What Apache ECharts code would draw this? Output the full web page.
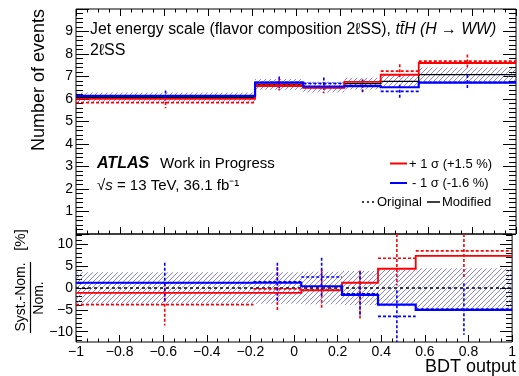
<!DOCTYPE html>
<html>
<head>
<meta charset="utf-8">
<script src="https://cdn.jsdelivr.net/npm/echarts@6/dist/echarts.min.js"></script>
<style>
  html, body { margin: 0; padding: 0; background: #fff; }
  #chart { width: 519px; height: 376px; }
</style>
</head>
<body>
<div id="chart"></div>
<script>
// BDT output binning
const binEdges = [-1, -0.186, 0.033, 0.22, 0.385, 0.558, 1];
// nominal yield per bin
const nominal = [6.07, 6.65, 6.53, 6.68, 6.78, 7.08];
// statistical uncertainty of the nominal, in %
const statRelPct = [3.6, 3.6, 3.7, 3.9, 4.2, 4.5];
// relative shifts (Syst.-Nom.)/Nom. in %, modified (smoothed) templates
const upModifiedPct = [-1.1, -1.1, -0.55, 1.2, 4.4, 7.35];
const downModifiedPct = [1.2, 1.2, 0.4, -1.55, -3.8, -5.0];
// relative shifts in %, original templates, with their uncertainties
const upOriginalPct = [-3.8, -0.2, -0.4, -1.5, 6.8, 8.5];
const downOriginalPct = [1.2, 1.4, 2.5, -1.3, -6.5, -4.8];
const upOriginalPctErr = [4.8, 5.0, 4.6, 5.5, 6.2, 6.2];
const downOriginalPctErr = [4.6, 4.4, 4.4, 5.0, 6.0, 5.9];
// absolute uncertainties of the original templates (events)
const upOriginalErr = [0.25, 0.26, 0.25, 0.28, 0.30, 0.30];
const downOriginalErr = [0.24, 0.26, 0.26, 0.27, 0.29, 0.33];

const RED = '#ff0000', BLUE = '#0000ff', BLACK = '#000000';
const FONT = '"Liberation Sans", Arial, Helvetica, sans-serif';
const RATIO_LIM = 12.35;

const scale = (vals, pct) => vals.map((v, i) => v * (1 + pct[i] / 100));
const upModified = scale(nominal, upModifiedPct);
const downModified = scale(nominal, downModifiedPct);
const upOriginal = scale(nominal, upOriginalPct);
const downOriginal = scale(nominal, downOriginalPct);

// hatch pattern for the statistical band
const hatch = document.createElement('canvas');
hatch.width = 5; hatch.height = 5;
(function () {
  const c = hatch.getContext('2d');
  c.strokeStyle = 'rgba(70,70,235,0.75)';
  c.lineWidth = 0.9;
  c.beginPath();
  c.moveTo(-1, 6); c.lineTo(6, -1);
  c.moveTo(-1, 1); c.lineTo(1, -1);
  c.moveTo(4, 6); c.lineTo(6, 4);
  c.stroke();
})();

function clamp(v, lim) { return lim == null ? v : Math.max(-lim, Math.min(lim, v)); }

// solid histogram outline
function stepSeries(xi, yi, vals, color, width, z) {
  return {
    type: 'custom', xAxisIndex: xi, yAxisIndex: yi, z, silent: true, animation: false,
    data: [[binEdges[0], vals[0]]],
    renderItem(params, api) {
      const pts = [];
      vals.forEach((v, i) => {
        pts.push(api.coord([binEdges[i], v]));
        pts.push(api.coord([binEdges[i + 1], v]));
      });
      return { type: 'polyline', shape: { points: pts },
               style: { stroke: color, lineWidth: width, fill: null } };
    }
  };
}

// dashed bin contents with vertical error bars
function errSeries(xi, yi, vals, errs, color, z, lim) {
  return {
    type: 'custom', xAxisIndex: xi, yAxisIndex: yi, z, silent: true, animation: false,
    data: vals.map((v, i) => [binEdges[i], v, i]),
    encode: { x: 0, y: 1 },
    renderItem(params, api) {
      const i = api.value(2);
      const v = vals[i], e = errs[i];
      const mid = (binEdges[i] + binEdges[i + 1]) / 2;
      const a = api.coord([binEdges[i], v]);
      const b = api.coord([binEdges[i + 1], v]);
      const t = api.coord([mid, clamp(v + e, lim)]);
      const d = api.coord([mid, clamp(v - e, lim)]);
      const st = { stroke: color, lineWidth: 1.6, lineDash: [3, 2] };
      return { type: 'group', children: [
        { type: 'line', shape: { x1: a[0], y1: a[1], x2: b[0], y2: b[1] }, style: st },
        { type: 'line', shape: { x1: t[0], y1: t[1], x2: d[0], y2: d[1] }, style: st }
      ] };
    }
  };
}

// hatched band per bin
function bandSeries(xi, yi, lo, hi, z) {
  return {
    type: 'custom', xAxisIndex: xi, yAxisIndex: yi, z, silent: true, animation: false,
    data: lo.map((v, i) => [binEdges[i], v, i]),
    encode: { x: 0, y: 1 },
    renderItem(params, api) {
      const i = api.value(2);
      const p = api.coord([binEdges[i], hi[i]]);
      const q = api.coord([binEdges[i + 1], lo[i]]);
      return { type: 'rect', shape: { x: p[0], y: p[1], width: q[0] - p[0], height: q[1] - p[1] },
               style: { fill: { image: hatch, repeat: 'repeat' } } };
    }
  };
}

const minus = v => {
  const r = +(+v).toFixed(1);
  return (r < 0 ? '\u2212' : '') + Math.abs(r);
};
const labelStyle = { fontFamily: FONT, fontSize: 14, color: '#000' };
const noLine = { show: false, onZero: false };

function xAx(grid, pos, labels) {
  return {
    type: 'value', gridIndex: grid, position: pos, min: -1, max: 1, interval: 0.2,
    axisLine: noLine,
    axisTick: { show: true, inside: true, length: 7, lineStyle: { color: '#000' } },
    minorTick: { show: true, splitNumber: 4, length: 3.5, lineStyle: { color: '#000' } },
    splitLine: { show: false }, minorSplitLine: { show: false },
    axisLabel: labels ? Object.assign({ show: true, margin: 3, formatter: minus,
                         showMinLabel: true, showMaxLabel: true }, labelStyle) : { show: false }
  };
}
function yUpper(pos, labels) {
  return {
    type: 'value', gridIndex: 0, position: pos, min: 0, max: 10, interval: 1,
    axisLine: noLine,
    axisTick: { show: true, inside: true, length: 13, lineStyle: { color: '#000' } },
    minorTick: { show: true, splitNumber: 5, length: 7, lineStyle: { color: '#000' } },
    splitLine: { show: false }, minorSplitLine: { show: false },
    axisLabel: labels ? Object.assign({ show: true, margin: 3,
      formatter: v => (v <= 0 || v >= 10) ? '' : String(v) }, labelStyle) : { show: false }
  };
}
const ratioMajor = [-10, -5, 0, 5, 10];
const ratioMinor = [];
for (let k = -12; k <= 12; k++) if (k % 5 !== 0) ratioMinor.push(k);
function yRatio(pos, major, labels) {
  return {
    type: 'value', gridIndex: 1, position: pos, min: -RATIO_LIM, max: RATIO_LIM,
    axisLine: noLine,
    axisTick: { show: true, inside: true, length: major ? 12 : 6,
                customValues: major ? ratioMajor : ratioMinor, lineStyle: { color: '#000' } },
    splitLine: { show: false },
    axisLabel: labels ? Object.assign({ show: true, margin: 3, customValues: ratioMajor,
                         formatter: minus }, labelStyle) : { show: false }
  };
}

const option = {
  animation: false,
  backgroundColor: '#fff',
  grid: [
    { left: 76, top: 9, width: 440, height: 225, show: true, borderColor: '#000', borderWidth: 1, backgroundColor: 'transparent' },
    { left: 76, top: 234, width: 440, height: 108, show: true, borderColor: '#000', borderWidth: 1, backgroundColor: 'transparent' }
  ],
  xAxis: [xAx(0, 'bottom', false), xAx(0, 'top', false), xAx(1, 'bottom', true)],
  yAxis: [yUpper('left', true), yUpper('right', false),
          yRatio('left', true, true), yRatio('left', false, false),
          yRatio('right', true, false), yRatio('right', false, false)],
  series: [
    // upper panel: event yields
    bandSeries(0, 0, nominal.map((v, i) => v * (1 - statRelPct[i] / 100)),
                     nominal.map((v, i) => v * (1 + statRelPct[i] / 100)), 1),
    stepSeries(0, 0, nominal, BLACK, 1.3, 2),
    errSeries(0, 0, upOriginal, upOriginalErr, RED, 3, null),
    errSeries(0, 0, downOriginal, downOriginalErr, BLUE, 3, null),
    stepSeries(0, 0, upModified, RED, 1.8, 4),
    stepSeries(0, 0, downModified, BLUE, 2.2, 5),
    // lower panel: relative shifts
    bandSeries(2, 2, statRelPct.map(v => -v), statRelPct, 1),
    {
      type: 'custom', xAxisIndex: 2, yAxisIndex: 2, z: 2, silent: true, animation: false,
      data: [[-1, 0]],
      renderItem(params, api) {
        const a = api.coord([-1, 0]), b = api.coord([1, 0]);
        return { type: 'line', shape: { x1: a[0], y1: a[1], x2: b[0], y2: b[1] },
                 style: { stroke: BLACK, lineWidth: 1.3, lineDash: [3, 3] } };
      }
    },
    errSeries(2, 2, upOriginalPct, upOriginalPctErr, RED, 3, RATIO_LIM),
    errSeries(2, 2, downOriginalPct, downOriginalPctErr, BLUE, 3, RATIO_LIM),
    stepSeries(2, 2, upModifiedPct, RED, 1.8, 4),
    stepSeries(2, 2, downModifiedPct, BLUE, 2.2, 5)
  ],
  graphic: [
    { type: 'text', x: 90, y: 30, style: { text: 'Jet energy scale (flavor composition 2{n|\u2113}SS), {i|tt\u0304H (H \u2192 WW)}',
        fontFamily: FONT, fontSize: 15.8, fill: '#000', verticalAlign: 'middle',
        rich: { i: { fontStyle: 'italic', fontFamily: FONT, fontSize: 15.8 }, n: { fontFamily: FONT, fontSize: 15.8 } } } },
    { type: 'text', x: 90, y: 51, style: { text: '2\u2113SS', fontFamily: FONT, fontSize: 16, fill: '#000', verticalAlign: 'middle' } },
    { type: 'text', x: 97, y: 164, style: { text: 'ATLAS', fontFamily: FONT, fontSize: 16, fontWeight: 'bold', fontStyle: 'italic', fill: '#000', verticalAlign: 'middle' } },
    { type: 'text', x: 160, y: 164, style: { text: 'Work in Progress', fontFamily: FONT, fontSize: 15, fill: '#000', verticalAlign: 'middle' } },
    { type: 'text', x: 97, y: 186, style: { text: '\u221A{i|s} = 13 TeV, 36.1 fb\u207B\u00B9', fontFamily: FONT, fontSize: 15, fill: '#000', verticalAlign: 'middle',
        rich: { i: { fontStyle: 'italic', fontFamily: FONT, fontSize: 15 } } } },
    // legend
    { type: 'line', shape: { x1: 390, y1: 163.5, x2: 407, y2: 163.5 }, style: { stroke: RED, lineWidth: 2 } },
    { type: 'text', x: 409, y: 164, style: { text: '+ 1 \u03C3 (+1.5 %)', fontFamily: FONT, fontSize: 13, fill: '#000', verticalAlign: 'middle' } },
    { type: 'line', shape: { x1: 390, y1: 183, x2: 407, y2: 183 }, style: { stroke: BLUE, lineWidth: 2 } },
    { type: 'text', x: 412, y: 183, style: { text: '- 1 \u03C3 (-1.6 %)', fontFamily: FONT, fontSize: 13, fill: '#000', verticalAlign: 'middle' } },
    { type: 'line', shape: { x1: 362, y1: 202, x2: 375, y2: 202 }, style: { stroke: BLACK, lineWidth: 1.3, lineDash: [2, 3] } },
    { type: 'text', x: 377, y: 202, style: { text: 'Original', fontFamily: FONT, fontSize: 13, fill: '#000', verticalAlign: 'middle' } },
    { type: 'line', shape: { x1: 427, y1: 202, x2: 440, y2: 202 }, style: { stroke: BLACK, lineWidth: 1.5 } },
    { type: 'text', x: 442, y: 202, style: { text: 'Modified', fontFamily: FONT, fontSize: 13, fill: '#000', verticalAlign: 'middle' } },
    // axis titles
    { type: 'text', x: 39, y: 9, rotation: Math.PI / 2, style: { text: 'Number of events', fontFamily: FONT, fontSize: 18, fill: '#000', align: 'right', verticalAlign: 'middle' } },
    { type: 'text', x: 516, y: 367, style: { text: 'BDT output', fontFamily: FONT, fontSize: 18, fill: '#000', align: 'right', verticalAlign: 'middle' } },
    { type: 'text', x: 21, y: 297, rotation: Math.PI / 2, style: { text: 'Syst.-Nom.', fontFamily: FONT, fontSize: 14, fill: '#000', align: 'center', verticalAlign: 'middle' } },
    { type: 'line', shape: { x1: 30.5, y1: 262, x2: 30.5, y2: 333 }, style: { stroke: '#000', lineWidth: 1.2 } },
    { type: 'text', x: 39, y: 298, rotation: Math.PI / 2, style: { text: 'Nom.', fontFamily: FONT, fontSize: 14, fill: '#000', align: 'center', verticalAlign: 'middle' } },
    { type: 'text', x: 21, y: 240, rotation: Math.PI / 2, style: { text: '[%]', fontFamily: FONT, fontSize: 15, fill: '#000', align: 'center', verticalAlign: 'middle' } }
  ]
};

const chart = echarts.init(document.getElementById('chart'), null, { renderer: 'canvas' });
chart.setOption(option);
</script>
</body>
</html>
